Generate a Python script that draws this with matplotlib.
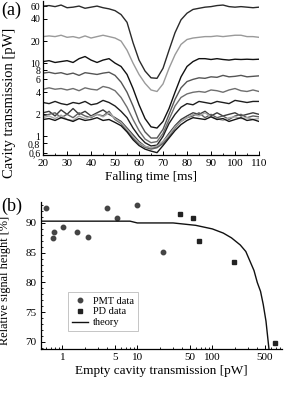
import matplotlib
matplotlib.use("Agg")
import matplotlib.pyplot as plt
from matplotlib.ticker import FixedLocator, NullFormatter, MultipleLocator

plt.rcParams['font.family'] = ['Liberation Serif', 'DejaVu Serif']

# (a) transmission traces, falling time in ms, power in pW
t_ms = [20, 22.5, 25, 27.5, 30, 32.5, 35, 37.5, 40, 42.5, 45, 47.5, 50, 52.5, 55, 57.5,
        60, 62.5, 65, 67.5, 70, 72.5, 75, 77.5, 80, 82.5, 85, 87.5, 90, 92.5, 95, 97.5,
        100, 102.5, 105, 107.5, 110]

trace_a = [60, 61, 59, 62, 57, 58, 60, 56, 58, 60, 57, 55, 52, 46, 36, 19,
           11, 7.8, 6.3, 6.2, 8.5, 15, 26, 39, 48, 54, 56, 58, 59, 61, 62, 59,
           58, 59, 58, 57, 58]
trace_b = [23, 23.5, 23, 24, 22.5, 23, 22, 23.5, 22, 23, 24, 23, 22, 20, 15, 10,
           7, 5.3, 4.3, 4.1, 5.2, 8.5, 13, 18, 21, 22, 22.5, 23, 23, 23.5, 23, 23.5,
           24, 24, 23, 23, 22.5]
trace_c = [10.5, 10.8, 10.2, 10.5, 10.8, 10.2, 11.5, 12.3, 11, 10.2, 11, 11.5, 10, 9, 7, 4.5,
           2.7, 1.75, 1.35, 1.3, 1.6, 2.4, 4.0, 6.5, 9, 10.5, 11.5, 11.5, 11.2, 11.5, 11.2, 11,
           11.3, 11.2, 11.3, 11.2, 11.3]
trace_d = [7.3, 7.5, 7.2, 7.4, 7.0, 7.3, 6.8, 7.4, 7.2, 7.0, 7.3, 7.5, 6.8, 5.5, 4.0, 2.6,
           1.6, 1.15, 0.95, 0.95, 1.25, 2.0, 3.2, 4.6, 5.6, 6.0, 6.3, 6.2, 6.5, 6.4, 6.8, 6.5,
           6.6, 6.8, 6.5, 6.6, 6.7]
trace_e = [4.4, 4.6, 4.4, 4.5, 4.3, 4.5, 4.2, 4.6, 4.4, 4.3, 4.8, 4.6, 4.2, 3.4, 2.5, 1.7,
           1.2, 0.92, 0.82, 0.85, 1.1, 1.7, 2.6, 3.4, 3.8, 4.0, 4.1, 4.0, 4.3, 4.2, 4.0, 4.3,
           4.5, 4.2, 4.1, 4.3, 4.1]
trace_f = [2.9, 2.8, 3.0, 2.8, 2.7, 2.9, 2.8, 3.0, 2.7, 2.8, 3.1, 2.9, 2.6, 2.2, 1.8, 1.3,
           1.0, 0.82, 0.74, 0.76, 1.0, 1.5, 2.0, 2.5, 2.8, 2.7, 3.0, 2.9, 2.8, 3.0, 2.9, 2.8,
           3.1, 3.0, 2.9, 3.0, 3.0]
trace_g = [2.1, 2.2, 1.9, 2.3, 2.0, 2.4, 2.0, 2.2, 1.9, 2.1, 2.3, 2.0, 1.8, 1.6, 1.3, 1.05,
           0.85, 0.73, 0.69, 0.72, 0.85, 1.1, 1.4, 1.7, 1.9, 2.1, 2.0, 2.2, 1.9, 2.1, 1.9, 2.0,
           2.1, 1.9, 2.0, 2.1, 2.0]
trace_h = [1.9, 2.0, 2.1, 1.8, 2.0, 1.8, 2.1, 1.9, 1.8, 2.0, 1.9, 2.2, 1.7, 1.5, 1.2, 0.95,
           0.8, 0.71, 0.67, 0.7, 0.8, 1.0, 1.3, 1.6, 1.8, 1.9, 2.1, 1.8, 2.0, 1.8, 1.9, 1.7,
           1.9, 2.0, 1.8, 1.9, 1.85]
trace_i = [1.8, 1.9, 1.75, 1.95, 1.7, 1.65, 1.9, 1.75, 1.85, 2.0, 1.85, 2.1, 1.75, 1.55, 1.25, 1.0,
           0.82, 0.73, 0.7, 0.74, 0.85, 1.05, 1.35, 1.6, 1.8, 2.0, 1.9, 2.1, 1.85, 1.75, 1.65, 1.8,
           1.85, 1.75, 1.8, 1.7, 1.75]
trace_j = [1.7, 1.75, 1.65, 1.8, 1.7, 1.6, 1.75, 1.65, 1.7, 1.8, 1.65, 1.7, 1.55, 1.4, 1.15, 0.9,
           0.75, 0.67, 0.63, 0.6, 0.75, 0.95, 1.2, 1.45, 1.65, 1.8, 1.75, 1.7, 1.85, 1.7, 1.75, 1.6,
           1.7, 1.8, 1.65, 1.7, 1.6]

traces = [trace_a, trace_b, trace_c, trace_d, trace_e, trace_f, trace_g, trace_h, trace_i, trace_j]
trace_colors = ['#2a2a2a', '#9a9a9a', '#111111', '#555555', '#6e6e6e',
                '#1e1e1e', '#3a3a3a', '#5e5e5e', '#a8a8a8', '#151515']

y_ticks_a = [0.6, 0.8, 1, 2, 4, 6, 8, 10, 20, 40, 60]
y_labels_a = ['0,6', '0,8', '1', '2', '4', '6', '8', '10', '20', '40', '60']

# (b) relative signal height vs empty cavity transmission
pmt_x = [0.61, 0.74, 0.78, 1.03, 1.58, 2.2, 3.98, 5.4, 10, 22]
pmt_y = [92.5, 87.5, 88.5, 89.3, 88.5, 87.7, 92.5, 90.8, 93.0, 85.2]
pd_x = [37.5, 55.6, 67, 196, 690]
pd_y = [91.5, 90.8, 87.0, 83.5, 69.8]
theory_x = [0.5, 8, 10, 30, 60, 100, 140, 180, 236, 280, 320, 360, 398, 440, 478, 520, 570]
theory_y = [90.3, 90.3, 90.0, 90.0, 89.6, 89.0, 88.3, 87.5, 86.3, 85.2, 83.5, 82.0, 80.0, 78.5, 76.3, 73.5, 68.8]

fig = plt.figure(figsize=(2.91, 3.94), dpi=100)

# ---- panel (a)
ax1 = fig.add_axes([0.148, 0.607, 0.742, 0.39])
for tr, c in zip(traces, trace_colors):
    ax1.plot(t_ms, tr, color=c, lw=1.0)
ax1.set_yscale('log')
ax1.set_xlim(20, 110)
ax1.set_ylim(0.56, 70)
ax1.yaxis.set_major_locator(FixedLocator(y_ticks_a))
ax1.set_yticklabels(y_labels_a)
ax1.yaxis.set_minor_formatter(NullFormatter())
ax1.yaxis.set_minor_locator(FixedLocator([]))
ax1.xaxis.set_major_locator(MultipleLocator(10))
ax1.xaxis.set_minor_locator(MultipleLocator(5))
ax1.set_xlabel('Falling time [ms]', fontsize=9.5, labelpad=2)
ax1.set_ylabel('Cavity transmission [pW]', fontsize=10.5)
ax1.yaxis.set_label_coords(-0.125, 0.34)
fig.text(0.003, 0.995, '(a)', fontsize=13, va='top', ha='left')

# ---- panel (b)
ax2 = fig.add_axes([0.141, 0.114, 0.828, 0.373])
ax2.plot(pmt_x, pmt_y, 'o', color='#444444', ms=3.2, label='PMT data')
ax2.plot(pd_x, pd_y, 's', color='#222222', ms=3.0, label='PD data')
ax2.plot(theory_x, theory_y, '-', color='#111111', lw=1.0, label='theory')
ax2.set_xscale('log')
ax2.set_xlim(0.52, 850)
ax2.set_ylim(68.8, 93.5)
ax2.set_xticks([1, 5, 10, 50, 100, 500])
ax2.set_xticklabels(['1', '5', '10', '50', '100', '500'])
ax2.xaxis.set_minor_formatter(NullFormatter())
ax2.set_yticks([70, 75, 80, 85, 90])
ax2.yaxis.set_minor_locator(MultipleLocator(1))
ax2.set_xlabel('Empty cavity transmission [pW]', fontsize=9.5, labelpad=2)
ax2.set_ylabel('Relative signal height [%]', fontsize=8.8)
ax2.yaxis.set_label_coords(-0.125, 0.47)
fig.text(0.003, 0.497, '(b)', fontsize=13, va='top', ha='left')
leg = ax2.legend(loc='lower left', bbox_to_anchor=(0.11, 0.12), fontsize=7.5,
                 frameon=True, fancybox=False, handlelength=1.6, handletextpad=0.4,
                 borderpad=0.4, labelspacing=0.15, borderaxespad=0)
leg.get_frame().set_edgecolor('#aaaaaa')
leg.get_frame().set_linewidth(0.6)

for ax in (ax1, ax2):
    ax.spines['top'].set_visible(False)
    ax.spines['right'].set_visible(False)
    ax.spines['left'].set_linewidth(0.9)
    ax.spines['bottom'].set_linewidth(0.9)
    ax.tick_params(which='major', direction='in', length=3, width=0.7, labelsize=8, pad=3)
    ax.tick_params(which='minor', direction='in', length=1.5, width=0.6)
ax1.tick_params(axis='y', which='major', labelsize=7, pad=2)

fig.savefig('out.png', dpi=100)
